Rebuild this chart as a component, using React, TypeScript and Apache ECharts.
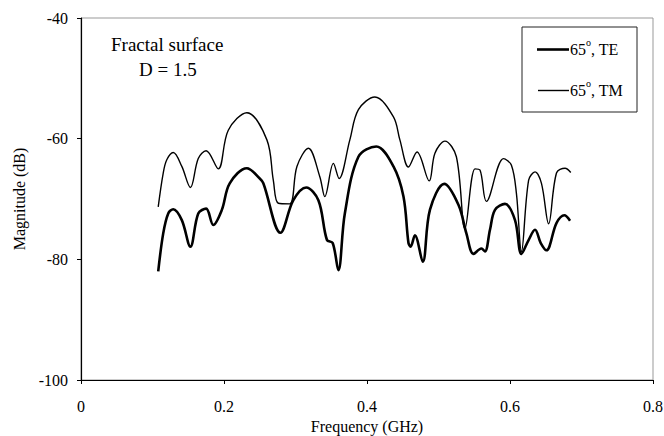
import React, { useEffect, useRef } from "react";
import * as echarts from "echarts";

// Frequency (GHz) / magnitude (dB) pairs for the 65° incidence, TE polarisation
const teFreq = [0.108, 0.115, 0.122, 0.129, 0.141, 0.153, 0.164, 0.175, 0.185, 0.197, 0.208, 0.232, 0.25, 0.255, 0.279, 0.297, 0.315, 0.332, 0.344, 0.352, 0.36, 0.369, 0.388, 0.413, 0.437, 0.451, 0.458, 0.461, 0.467, 0.478, 0.488, 0.508, 0.528, 0.539, 0.549, 0.56, 0.565, 0.572, 0.579, 0.593, 0.607, 0.616, 0.626, 0.635, 0.643, 0.651, 0.665, 0.676, 0.684];
const teMag = [-82.0, -75.7, -72.4, -71.7, -73.5, -77.9, -72.4, -71.6, -74.3, -71.8, -67.4, -64.9, -66.6, -67.4, -75.6, -70.2, -68.1, -70.2, -76.8, -77.3, -81.8, -72.4, -63.0, -61.3, -64.6, -69.6, -77.3, -77.9, -76.0, -80.4, -71.8, -67.5, -71.0, -75.7, -79.1, -78.2, -78.7, -75.1, -71.8, -70.8, -73.5, -79.1, -76.8, -75.1, -77.3, -78.5, -74.0, -72.7, -73.6];

// Same incidence, TM polarisation
const tmFreq = [0.108, 0.115, 0.12, 0.129, 0.141, 0.153, 0.164, 0.175, 0.192, 0.206, 0.232, 0.26, 0.269, 0.276, 0.292, 0.302, 0.318, 0.334, 0.341, 0.353, 0.361, 0.376, 0.388, 0.411, 0.437, 0.446, 0.458, 0.47, 0.487, 0.495, 0.509, 0.525, 0.537, 0.551, 0.558, 0.567, 0.591, 0.602, 0.609, 0.616, 0.626, 0.635, 0.644, 0.654, 0.665, 0.677, 0.685];
const tmMag = [-71.3, -65.7, -63.5, -62.3, -64.6, -68.1, -63.3, -62.0, -65.0, -58.6, -55.7, -60.2, -66.9, -70.7, -70.8, -64.6, -61.6, -66.3, -69.6, -64.1, -66.6, -60.2, -55.2, -53.1, -56.4, -60.2, -64.7, -62.2, -67.0, -62.4, -60.4, -63.0, -74.9, -65.0, -65.2, -70.4, -63.3, -64.4, -69.1, -78.7, -66.9, -65.5, -67.4, -74.1, -65.7, -64.9, -65.6];

const xTicks = [0, 0.2, 0.4, 0.6, 0.8];
const yTicks = [-100, -80, -60, -40];

const FONT = "Liberation Serif";

const pairs = (xs: number[], ys: number[]) => xs.map((x, i) => [x, ys[i]]);

const txt = (x: number, y: number, text: string, size: number) => ({
  type: "text",
  left: x,
  top: y,
  style: { text, fontSize: size, fontFamily: FONT, fill: "#000" },
});

export default function App() {
  const ref = useRef<HTMLDivElement>(null);

  useEffect(() => {
    if (!ref.current) return;
    const chart = echarts.init(ref.current, null, { renderer: "svg" });
    const legendText = (x: number, y: number, tail: string) => [
      txt(x, y - 9, "65", 16),
      txt(x + 16, y - 13, "o", 10),
      txt(x + 21, y - 9, tail, 16),
    ];
    chart.setOption({
      animation: false,
      backgroundColor: "#fff",
      textStyle: { fontFamily: FONT },
      grid: {
        left: 81,
        top: 18,
        right: 11,
        bottom: 56,
        containLabel: false,
        outerBoundsMode: "none",
        show: true,
        borderColor: "#999",
        borderWidth: 1,
      },
      xAxis: {
        type: "value",
        min: xTicks[0],
        max: xTicks[xTicks.length - 1],
        interval: 0.2,
        name: "Frequency (GHz)",
        nameLocation: "middle",
        nameGap: 38,
        nameTextStyle: { fontSize: 16, color: "#000", fontFamily: FONT },
        axisLine: { lineStyle: { color: "#000", width: 1.2 } },
        axisTick: { inside: false, length: 4, lineStyle: { color: "#000" } },
        axisLabel: {
          fontSize: 16,
          color: "#000",
          margin: 18,
          fontFamily: FONT,
          formatter: (v: number) => (v === 0 ? "0" : String(Number(v.toFixed(1)))),
        },
        splitLine: { show: false },
      },
      yAxis: {
        type: "value",
        min: yTicks[0],
        max: yTicks[yTicks.length - 1],
        interval: 20,
        name: "Magnitude (dB)",
        nameLocation: "middle",
        nameGap: 53,
        nameTextStyle: { fontSize: 16, color: "#000", fontFamily: FONT },
        axisLine: { show: true, lineStyle: { color: "#000", width: 1.2 } },
        axisTick: { show: true, inside: false, length: 4, lineStyle: { color: "#000" } },
        axisLabel: { fontSize: 16, color: "#000", margin: 13, fontFamily: FONT },
        splitLine: { show: false },
      },
      series: [
        {
          name: "65°, TE",
          type: "line",
          data: pairs(teFreq, teMag),
          smooth: 0.35,
          symbol: "none",
          lineStyle: { color: "#000", width: 2.6 },
        },
        {
          name: "65°, TM",
          type: "line",
          data: pairs(tmFreq, tmMag),
          smooth: 0.35,
          symbol: "none",
          lineStyle: { color: "#000", width: 1.4 },
        },
      ],
      graphic: [
        txt(111, 35, "Fractal surface", 19),
        txt(139, 60, "D = 1.5", 19),
        {
          type: "rect",
          shape: { x: 522, y: 27, width: 115, height: 85 },
          style: { fill: "#fff", stroke: "#222", lineWidth: 1 },
        },
        { type: "line", shape: { x1: 537, y1: 49.5, x2: 569, y2: 49.5 }, style: { stroke: "#000", lineWidth: 2.6 } },
        { type: "line", shape: { x1: 538, y1: 90.5, x2: 569, y2: 90.5 }, style: { stroke: "#000", lineWidth: 1.4 } },
        ...legendText(570, 50, ", TE"),
        ...legendText(570, 91, ", TM"),
      ],
    });
    return () => chart.dispose();
  }, []);

  return <div ref={ref} style={{ width: 664, height: 436, position: "absolute", left: 0, top: 0 }} />;
}
